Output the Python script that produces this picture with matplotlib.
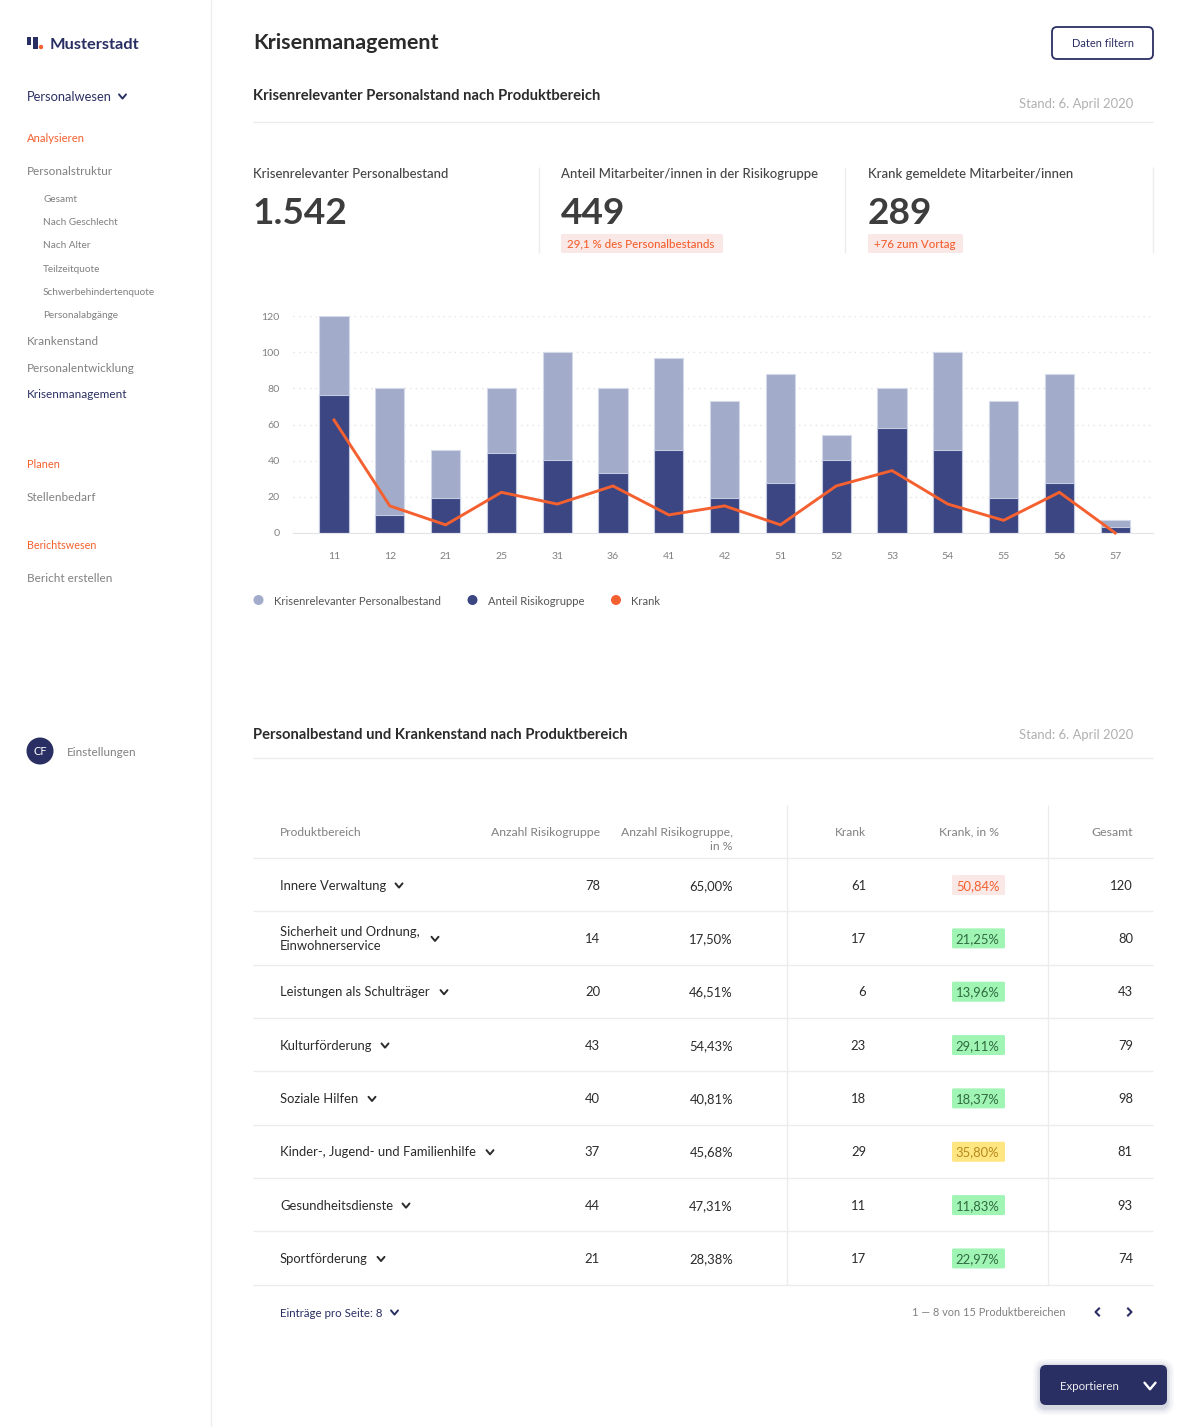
import matplotlib
matplotlib.use("Agg")
import matplotlib.pyplot as plt
from matplotlib.patches import FancyBboxPatch, Rectangle, Circle

plt.rcParams['font.family'] = ['Lato', 'DejaVu Sans']

# chart data
bereiche = ["11", "12", "21", "25", "31", "36", "41", "42", "51", "52", "53", "54", "55", "56", "57"]
bestand = [120, 80, 46, 80, 100, 80, 97, 73, 88, 54, 80, 100, 73, 88, 7]
risiko = [76.5, 10, 19.5, 44, 40.5, 33, 46, 19.5, 27.5, 40.5, 58, 46, 19.5, 27.5, 3.5]
krank = [62.5, 15, 4.5, 22.5, 16, 26, 10, 15, 4.5, 26, 34.5, 16, 7, 22.5, 0]
y_ticks = [0, 20, 40, 60, 80, 100, 120]

# table data
zeilen = ["Innere Verwaltung", "Sicherheit und Ordnung,\nEinwohnerservice", "Leistungen als Schulträger",
          "Kulturförderung", "Soziale Hilfen", "Kinder-, Jugend- und Familienhilfe",
          "Gesundheitsdienste", "Sportförderung"]
anzahl_risiko = ["78", "14", "20", "43", "40", "37", "44", "21"]
anteil_risiko = ["65,00%", "17,50%", "46,51%", "54,43%", "40,81%", "45,68%", "47,31%", "28,38%"]
anzahl_krank = ["61", "17", "6", "23", "18", "29", "11", "17"]
anteil_krank = ["50,84%", "21,25%", "13,96%", "29,11%", "18,37%", "35,80%", "11,83%", "22,97%"]
gesamt = ["120", "80", "43", "79", "98", "81", "93", "74"]
chevron_x = [399, 435, 444, 385, 372, 490, 406, 381]

NAVY = "#2a2f63"
BAR_DARK = "#3b4683"
BAR_LIGHT = "#a2acca"
ORANGE = "#f4602f"
GREY = "#808080"
DARK = "#2b2b2b"
LINE = "#ececec"
PINK = "#f9e8e6"
GREEN = "#a0f5b4"
YELLOW = "#ffe680"

W, H = 1200, 1427
fig = plt.figure(figsize=(W / 100, H / 100), dpi=100, facecolor="white")

# page layer in pixel coordinates
page = fig.add_axes([0, 0, 1, 1])
page.set_xlim(0, W)
page.set_ylim(H, 0)
page.axis("off")


def px(size):
    return size * 0.72


def txt(x, y, s, size=13, color=DARK, weight="normal", ha="left", **kw):
    # baseline alignment so commas and descenders do not shift the rows
    page.text(x, y + 0.36 * size, s, fontsize=px(size), color=color, fontweight=weight, ha=ha, va="baseline", **kw)


def hline(y, x0=253, x1=1153, color=LINE, lw=1.0):
    page.plot([x0, x1], [y, y], color=color, lw=lw, solid_capstyle="butt")


def vline(x, y0, y1, color=LINE, lw=1.0):
    page.plot([x, x], [y0, y1], color=color, lw=lw, solid_capstyle="butt")


def chevron(x, y, color=DARK, s=3.5, lw=1.4):
    page.plot([x - s, x, x + s], [y - s * 0.6, y + s * 0.6, y - s * 0.6], color=color, lw=lw,
              solid_capstyle="round", solid_joinstyle="round")


def pill(x, y, w, h, color, r=1.5):
    page.add_patch(FancyBboxPatch((x + r, y + r), w - 2 * r, h - 2 * r, boxstyle=f"round,pad={r},rounding_size={r}",
                                  fc=color, ec="none"))


# sidebar
vline(211, 0, H, color="#eeeeee")
page.add_patch(Rectangle((27, 37), 3.5, 7.5, fc=NAVY, ec="none"))
page.add_patch(Rectangle((33, 37), 4.5, 12, fc=NAVY, ec="none"))
page.add_patch(Circle((41, 47), 2.2, fc=ORANGE, ec="none"))
txt(50, 43, "Musterstadt", 16.4, NAVY, "bold")
txt(27, 96, "Personalwesen", 12.9, NAVY)
chevron(122.5, 96.5, NAVY)
txt(27, 138, "Analysieren", 11.2, ORANGE)
txt(27, 171, "Personalstruktur", 11.7, GREY)
for y, s in [(198, "Gesamt"), (221, "Nach Geschlecht"), (244.5, "Nach Alter"), (268, "Teilzeitquote"),
             (291, "Schwerbehindertenquote"), (314.5, "Personalabgänge")]:
    txt(43, y, s, 10, GREY)
txt(27, 341, "Krankenstand", 11.7, GREY)
txt(27, 367.5, "Personalentwicklung", 11.7, GREY)
txt(27, 394, "Krisenmanagement", 11.7, NAVY)
txt(27, 464.5, "Planen", 11, ORANGE)
txt(27, 497, "Stellenbedarf", 11.7, GREY)
txt(27, 545, "Berichtswesen", 10.7, ORANGE)
txt(27, 577.5, "Bericht erstellen", 11.7, GREY)
page.add_patch(Circle((40, 751), 13.5, fc=NAVY, ec="none"))
txt(40, 751, "CF", 11, "white", ha="center")
txt(67, 751.5, "Einstellungen", 11.7, GREY)

# header
txt(253, 41, "Krisenmanagement", 21.5, DARK, "bold")
page.add_patch(FancyBboxPatch((1056, 31), 93, 24, boxstyle="round,pad=4,rounding_size=5", fc="white", ec=NAVY, lw=1.3))
txt(1103, 43, "Daten filtern", 11, NAVY, ha="center")
txt(253, 95, "Krisenrelevanter Personalstand nach Produktbereich", 14.7, DARK, "bold")
txt(1133, 103, "Stand: 6. April 2020", 13, "#b0b0b0", ha="right")
hline(122)

# kpi row
for x, label, value in [(253, "Krisenrelevanter Personalbestand", "1.542"),
                        (561, "Anteil Mitarbeiter/innen in der Risikogruppe", "449"),
                        (868, "Krank gemeldete Mitarbeiter/innen", "289")]:
    txt(x, 173, label, 13.1, "#444444", "medium")
    txt(x, 211, value, 37, "#3d3d3d", "bold")
for x in [538.5, 844.5, 1152.5]:
    vline(x, 167, 253)
pill(561, 234, 162, 19, PINK)
txt(567, 243.5, "29,1 % des Personalbestands", 11.5, ORANGE, "medium")
pill(868, 234, 95, 19, PINK)
txt(874, 243.5, "+76 zum Vortag", 11.5, ORANGE, "medium")

# bar chart, pixel box x 293..1153, y 316..533
ax = fig.add_axes([293 / W, 1 - 533 / H, 860 / W, 217 / H])
ax.patch.set_alpha(0)
xs = list(range(len(bereiche)))
ax.set_xlim((293 - 334) / 55.8, (1153 - 334) / 55.8)
ax.set_ylim(0, 120)
ax.set_axisbelow(True)
ax.grid(axis="y", color="#e4e4e4", lw=1, linestyle=(0, (1, 3)))
ax.bar(xs, bestand, width=0.525, color=BAR_LIGHT, edgecolor="#d5daea", linewidth=0.8,
       label="Krisenrelevanter Personalbestand")
ax.bar(xs, risiko, width=0.525, color=BAR_DARK, edgecolor="#c4cae0", linewidth=0.8, label="Anteil Risikogruppe")
ax.plot(xs, krank, color=ORANGE, lw=2.1, solid_joinstyle="miter", clip_on=False, label="Krank", zorder=5)
for side in ["top", "left", "right"]:
    ax.spines[side].set_visible(False)
ax.spines["bottom"].set_color("#e4e4e8")
ax.set_yticks(y_ticks)
ax.set_xticks(xs, bereiche)
ax.tick_params(length=0, labelsize=px(10.5), labelcolor=GREY)
ax.tick_params(axis="x", pad=14)
ax.tick_params(axis="y", pad=9.5)

# legend built from the bar and line colours
for x, col, s in [(258.5, BAR_LIGHT, "Krisenrelevanter Personalbestand"),
                  (472.5, BAR_DARK, "Anteil Risikogruppe"),
                  (616, ORANGE, "Krank")]:
    page.add_patch(Circle((x, 600), 5, fc=col, ec="none"))
    txt(x + 15, 600.5, s, 11.2, "#555555")

# table section
txt(253, 733.5, "Personalbestand und Krankenstand nach Produktbereich", 14.7, DARK, "bold")
txt(1133, 734, "Stand: 6. April 2020", 13, "#b0b0b0", ha="right")
hline(758)
vline(786.5, 805, 1285)
vline(1047.5, 805, 1285)
txt(280, 831.5, "Produktbereich", 12, GREY)
txt(600, 831.5, "Anzahl Risikogruppe", 12.2, GREY, ha="right")
txt(733, 831.5, "Anzahl Risikogruppe,", 12.2, GREY, ha="right")
txt(733, 845.5, "in %", 12.2, GREY, ha="right")
txt(866, 831.5, "Krank", 12, GREY, ha="right")
txt(999, 831.5, "Krank, in %", 12.2, GREY, ha="right")
txt(1133, 831.5, "Gesamt", 12.2, GREY, ha="right")
hline(858)

for i, name in enumerate(zeilen):
    y = 885 + i * 53.35
    if "\n" in name:
        first, second = name.split("\n")
        txt(280, y - 7, first, 13, DARK)
        txt(280, y + 7, second, 13, DARK)
    else:
        txt(280, y, name, 13, DARK)
    chevron(chevron_x[i], y + 0.5, DARK)
    txt(600, y, anzahl_risiko[i], 13, DARK, ha="right")
    txt(733, y, anteil_risiko[i], 13, DARK, ha="right")
    txt(866, y, anzahl_krank[i], 13, DARK, ha="right")
    wert = float(anteil_krank[i].rstrip("%").replace(",", "."))
    if wert >= 50:
        bg, fg = PINK, ORANGE
    elif wert >= 30:
        bg, fg = YELLOW, "#b58a1e"
    else:
        bg, fg = GREEN, "#2f6b3f"
    pill(952, y - 10, 53, 20, bg)
    txt(999.5, y, anteil_krank[i], 13, fg, ha="right")
    txt(1133, y, gesamt[i], 13, DARK, ha="right")
    hline(858 + (i + 1) * 53.35)

# footer
txt(280, 1312.5, "Einträge pro Seite: 8", 11.5, NAVY)
chevron(394.5, 1312.5, NAVY)
txt(1066, 1312.5, "1 — 8 von 15 Produktbereichen", 11, GREY, ha="right")
page.plot([1099, 1095.5, 1099], [1308.5, 1312, 1315.5], color=NAVY, lw=1.5)
page.plot([1128, 1131.5, 1128], [1308.5, 1312, 1315.5], color=NAVY, lw=1.5)

# export button with a soft shadow
for pad, alpha in [(7, 0.03), (5, 0.04), (3, 0.05), (1.5, 0.07)]:
    page.add_patch(FancyBboxPatch((1046, 1372), 115, 30, boxstyle=f"round,pad={pad + 6},rounding_size={pad + 6}",
                                  fc="#2a2f63", ec="none", alpha=alpha))
page.add_patch(FancyBboxPatch((1046, 1371), 115, 28, boxstyle="round,pad=6,rounding_size=6", fc=NAVY, ec="none"))
txt(1060, 1385.5, "Exportieren", 11.5, "#eeeeee")
chevron(1150, 1386, "white", s=5.5, lw=1.7)

fig.savefig("out.png", dpi=100, facecolor="white")
